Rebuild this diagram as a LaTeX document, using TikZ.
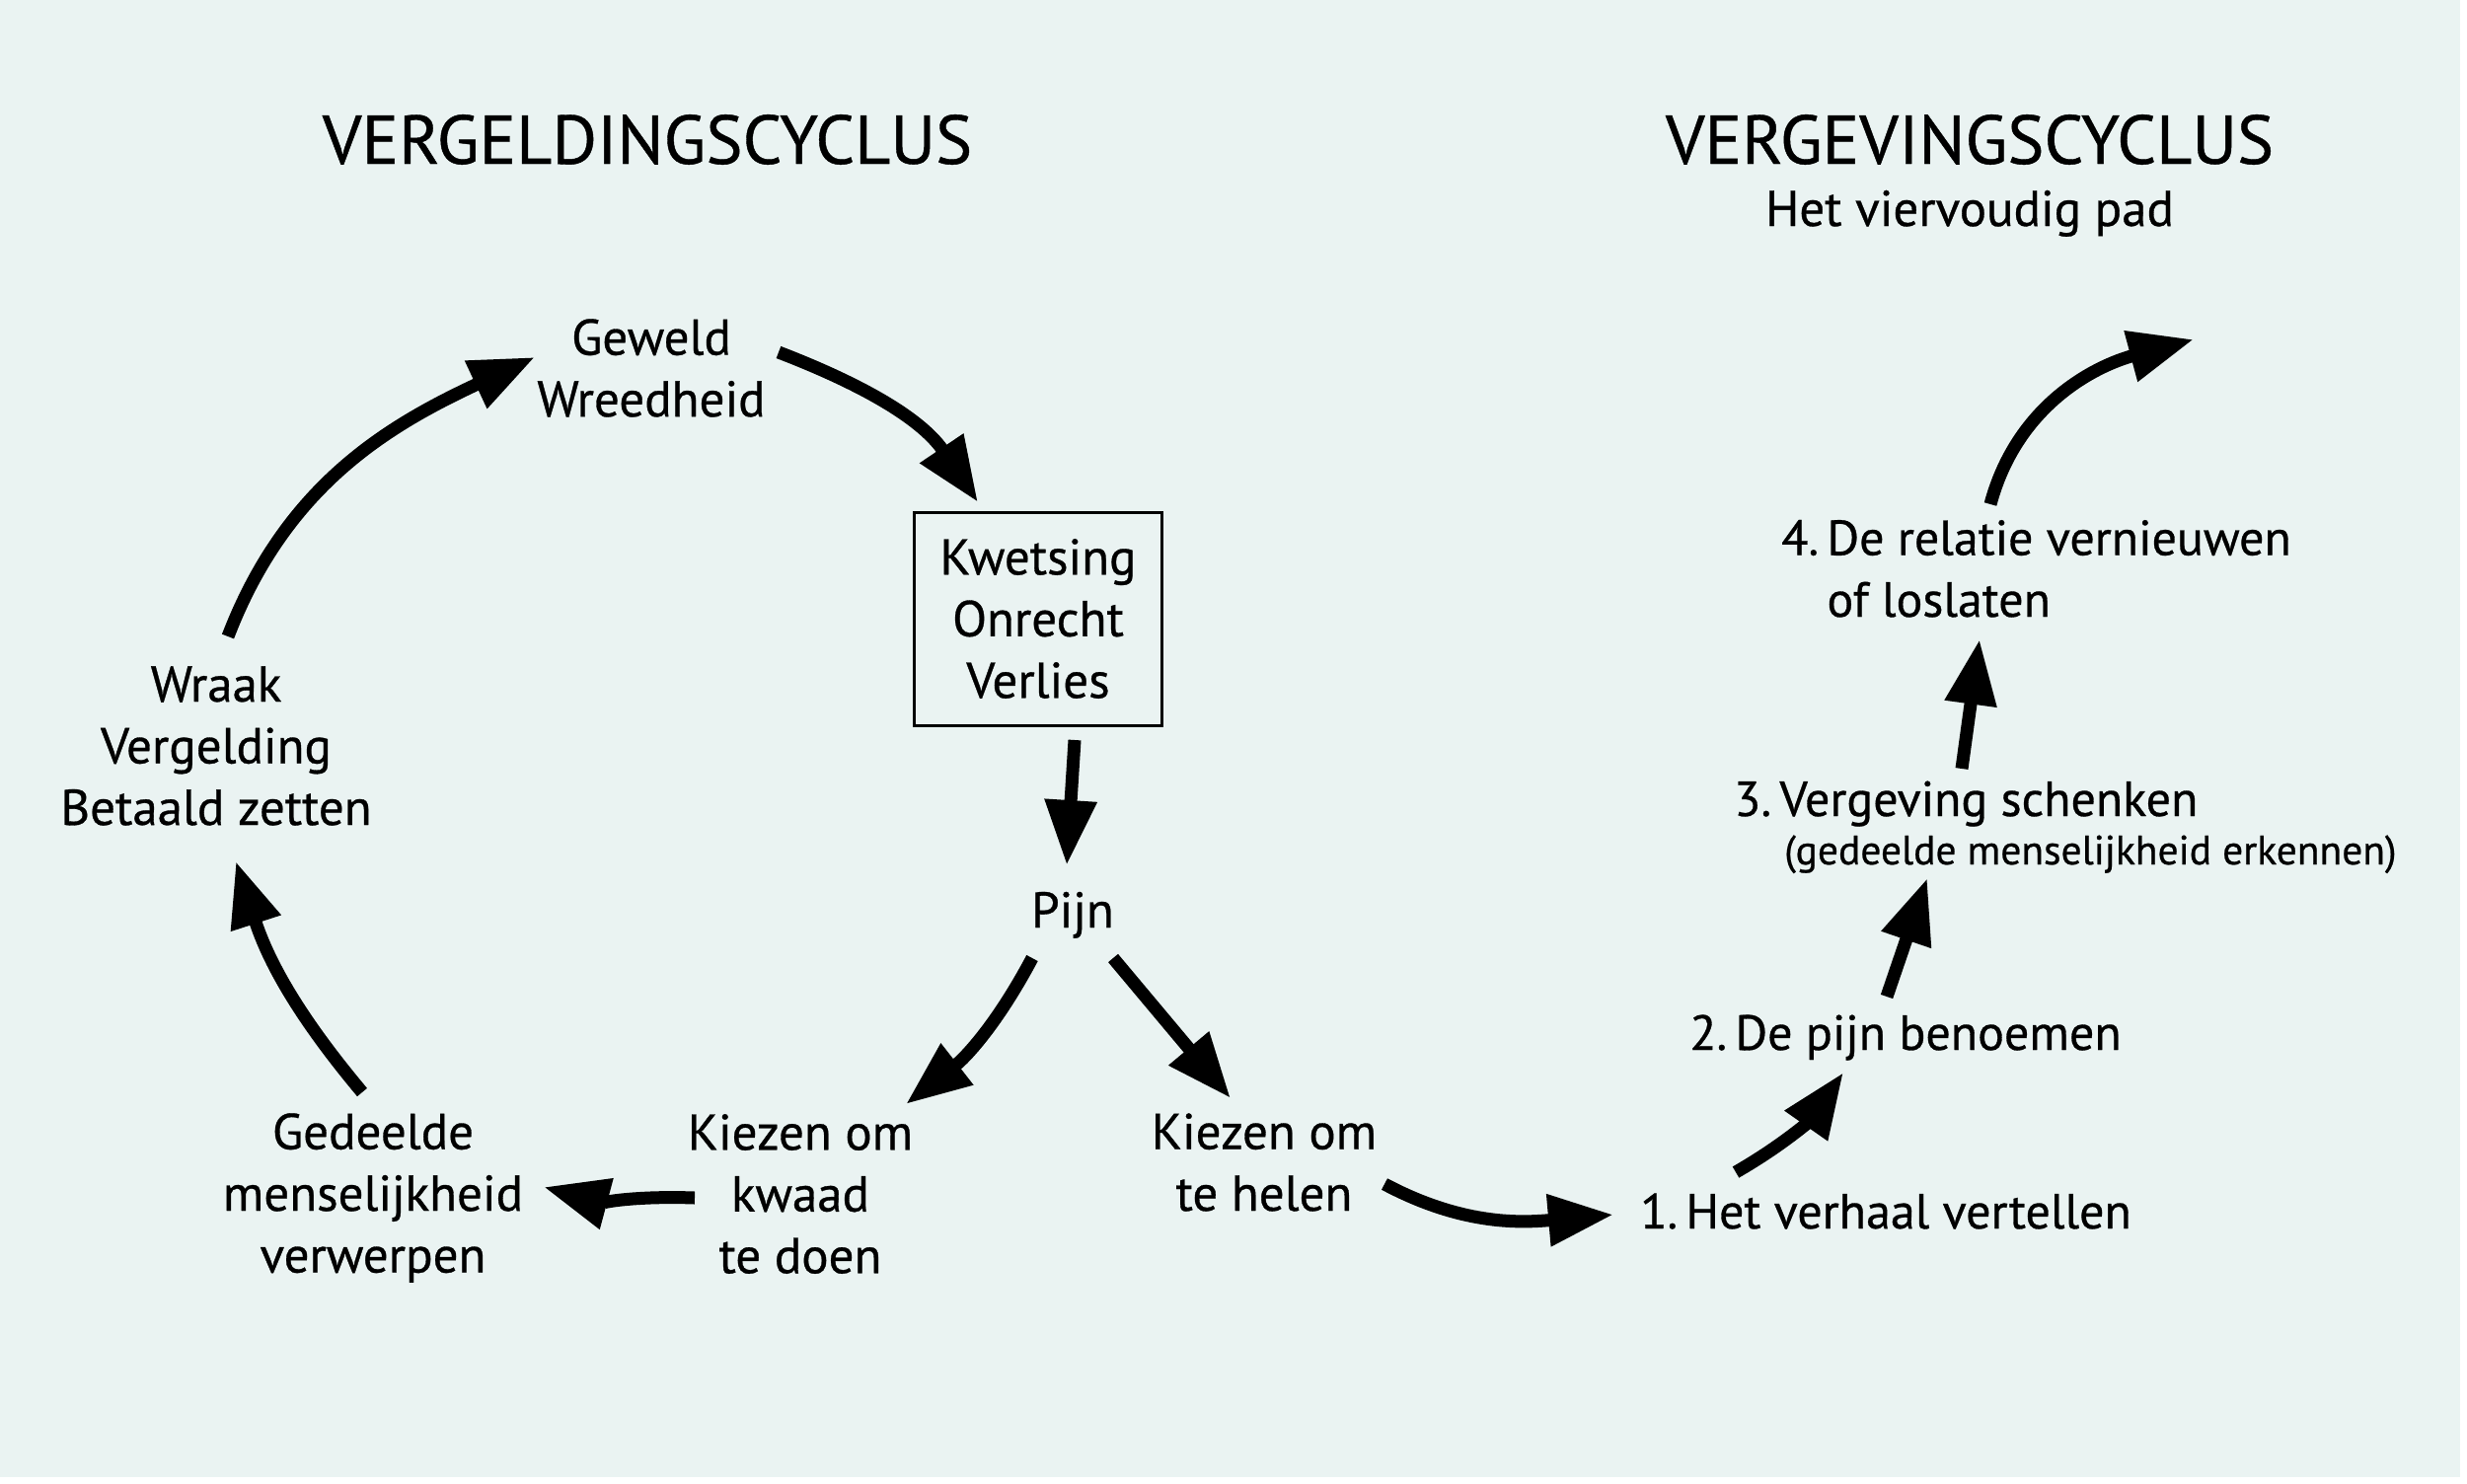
\documentclass[tikz,border=0pt]{standalone}
\usepackage{fontspec}
\setmainfont{PT Sans}
\newfontfamily\diagfont[FakeBold=0.6]{PT Sans}
\usetikzlibrary{arrows.meta,calc,positioning}
\definecolor{bgcolor}{HTML}{EAF3F2}

\begin{document}
\begin{tikzpicture}[x=1pt,y=-1pt]
    \tikzset{TitleStyle/.style = {inner sep=0pt, anchor=base,
        font=\diagfont\fontsize{70}{84}\selectfont},
      LeftStyle/.style = {inner sep=0pt, align=center,
        font=\diagfont\fontsize{51}{62.5}\selectfont},
      RightStyle/.style = {inner sep=0pt, align=left, anchor=base west,
        font=\diagfont\fontsize{50}{62.5}\selectfont},
      BoxStyle/.style = {draw, line width=3pt, minimum width=251pt,
        minimum height=216pt},
      EdgeStyle/.style = {line width=13pt, -{Triangle[length=66pt,width=50pt]}}}
    \fill[white] (0,0) rectangle (2500,1504);
    \fill[bgcolor] (0,0) rectangle (2493,1497);
    % titels
    \node[TitleStyle] (titleL) at (656,166) {VERGELDINGSCYCLUS};
    \node[TitleStyle] (titleR) at (1996,166) {VERGEVINGSCYCLUS};
    \node[TitleStyle, font=\diagfont\fontsize{51}{62}\selectfont] (sub) at (1996,229) {Het viervoudig pad};
    % vergeldingscyclus
    \node[LeftStyle] (geweld) at (660,373) {Geweld\\Wreedheid};
    \node[LeftStyle, BoxStyle] (kwetsing) at (1052,627) {Kwetsing\\Onrecht\\Verlies};
    \node[LeftStyle, anchor=base] (pijn) at (1087,940) {Pijn};
    \node[LeftStyle] (kwaad) at (811,1210) {Kiezen om\\kwaad\\te doen};
    \node[LeftStyle] (helen) at (1281,1178) {Kiezen om\\te helen};
    \node[LeftStyle] (gedeelde) at (378,1214) {Gedeelde\\menselijkheid\\verwerpen};
    \node[LeftStyle] (wraak) at (219,756) {Wraak\\Vergelding\\Betaald zetten};
    % vergevingscyclus
    \node[RightStyle] (step1) at (1662,1245) {1.\,Het verhaal vertellen};
    \node[RightStyle] (step2) at (1712,1064) {2.\,De pijn benoemen};
    \node[RightStyle] (step3) at (1757,827) {3.\,Vergeving schenken};
    \node[RightStyle, font=\diagfont\fontsize{41.5}{50}\selectfont] (step3b) at (1808,876) {(gedeelde menselijkheid erkennen)};
    \node[RightStyle] (step4) at (1805,625) {4.\,De relatie vernieuwen\\\phantom{4.\,}of loslaten};
    \coordinate (exit) at (2223,344);

    \draw[EdgeStyle] ($(wraak.center)+(12,-111)$) to[out=69,in=205] ($(geweld.center)+(-118,-11)$);
    \draw[EdgeStyle] ($(geweld.center)+(129,-16)$) to[out=-21,in=124] ($(kwetsing.center)+(-61,-118)$);
    \draw[EdgeStyle] ($(kwetsing.center)+(37,123)$) -- ($(pijn.base)+(-6,-63)$);
    \draw[EdgeStyle] ($(pijn.base)+(-41,31)$) to[out=-118,in=38] ($(kwaad.center)+(107,-91)$);
    \draw[EdgeStyle] ($(pijn.base)+(41,31)$) -- ($(helen.center)+(-34,-65)$);
    \draw[EdgeStyle] ($(kwaad.center)+(-107,4)$) to[out=178,in=-15] ($(gedeelde.center)+(173,-11)$);
    \draw[EdgeStyle] ($(gedeelde.center)+(-11,-107)$) to[out=130,in=-72] ($(wraak.center)+(20,117)$);
    \draw[EdgeStyle] ($(helen.center)+(122,22)$) to[out=-28,in=185] ($(step1.base west)+(-27,-14)$);
    \draw[EdgeStyle] ($(step1.base west)+(97,-57)$) to[out=30,in=235] ($(step2.base west)+(156,23)$);
    \draw[EdgeStyle] ($(step2.base west)+(200,-54)$) -- ($(step3b.base west)+(145,14)$);
    \draw[EdgeStyle] ($(step3.base west)+(231,-48)$) -- ($(step4.base west)+(201,23)$);
    \draw[EdgeStyle] ($(step4.base west)+(212,-114)$) to[out=75,in=195] (exit);
\end{tikzpicture}
\end{document}
